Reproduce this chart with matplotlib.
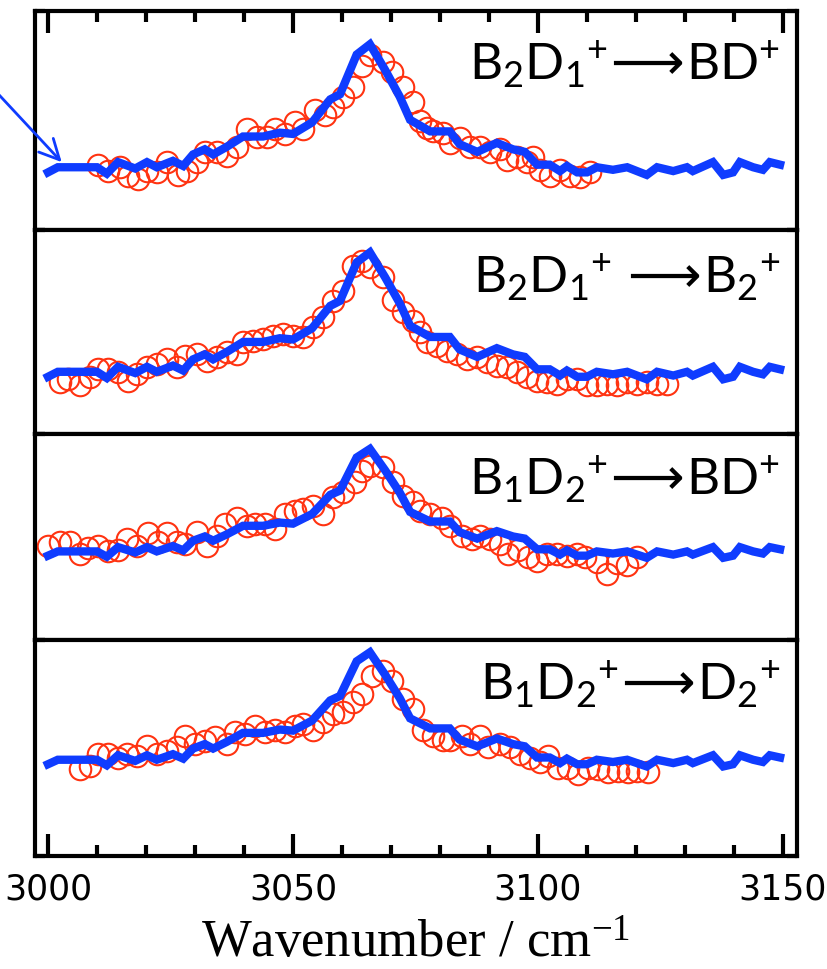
import matplotlib
matplotlib.use("Agg")

import matplotlib.pyplot as plt
from matplotlib import font_manager

# calculated spectrum (same trace in every panel), relative intensity
blue_wn = [3000, 3002, 3010, 3012, 3014.3, 3017.8, 3020.2, 3022.2, 3025.5, 3027.6,
           3029.6, 3032, 3033.7, 3036.5, 3039.8, 3043.9, 3047.3, 3050, 3053.9, 3057.6,
           3059.6, 3063, 3065.7, 3068.8, 3071.8, 3073.9, 3078, 3082, 3084, 3087.6,
           3091.6, 3094.9, 3097.3, 3099.8, 3102.4, 3104.5, 3105.9, 3108, 3110, 3112,
           3115.3, 3118.2, 3122.2, 3124.3, 3127.6, 3130.4, 3131.6, 3135.7, 3137.8, 3139.8,
           3141.2, 3143.9, 3145.9, 3147.3, 3149.4]
blue_int = [0, 0.04, 0.04, -0.01, 0.08, 0.03, 0.08, 0.04, 0.09, 0.05,
            0.14, 0.18, 0.14, 0.20, 0.28, 0.28, 0.31, 0.30, 0.39, 0.57,
            0.61, 0.92, 1.0, 0.80, 0.59, 0.41, 0.32, 0.32, 0.22, 0.16,
            0.23, 0.18, 0.16, 0.06, 0.06, 0.01, 0.05, 0, 0, 0.04,
            0.02, 0.04, -0.02, 0.04, 0.01, 0.04, 0.01, 0.08, -0.02, 0,
            0.08, 0.04, 0.02, 0.08, 0.06]

# measured spectra (open circles)
b2d1_bd_wn = [3010.2, 3012.2, 3014.7, 3016.3, 3018.4, 3020.2, 3022.2, 3024.3, 3026.5, 3028.4,
              3030.4, 3032.0, 3034.5, 3036.5, 3038.6, 3040.6, 3042.7, 3044.7, 3046.3, 3048.4,
              3050.4, 3052.0, 3054.5, 3056.5, 3058.2, 3060.2, 3062.2, 3064.1, 3065.7, 3068.4,
              3070.2, 3072.4, 3074.5, 3075.9, 3077.3, 3078.6, 3080.6, 3082.0, 3084.1, 3086.1,
              3088.2, 3090.2, 3092.2, 3093.7, 3095.7, 3097.8, 3099.0, 3100.4, 3102.4, 3104.5,
              3106.5, 3108.6, 3110.6]
b2d1_bd_int = [0.06, 0.01, 0.04, -0.03, -0.05, 0.01, 0.0, 0.08, -0.02, 0.01,
               0.08, 0.16, 0.16, 0.13, 0.20, 0.34, 0.28, 0.28, 0.34, 0.30,
               0.39, 0.34, 0.49, 0.45, 0.51, 0.59, 0.67, 0.83, 0.92, 0.86,
               0.78, 0.67, 0.55, 0.40, 0.35, 0.32, 0.31, 0.23, 0.27, 0.20,
               0.20, 0.16, 0.18, 0.10, 0.12, 0.08, 0.12, 0.02, -0.03, 0.02,
               -0.03, -0.04, 0.0]

b2d1_b2_wn = [3002.4, 3004.1, 3006.5, 3008.6, 3010.2, 3012.2, 3014.3, 3016.3, 3018.2, 3020.2,
              3022.2, 3024.3, 3026.3, 3028.0, 3030.4, 3032.4, 3034.5, 3036.5, 3038.6, 3039.8,
              3041.8, 3043.9, 3045.9, 3048.0, 3050.0, 3052.0, 3054.1, 3056.1, 3058.2, 3060.2,
              3062.2, 3064.1, 3065.7, 3068.4, 3070.4, 3072.4, 3074.5, 3075.9, 3077.3, 3079.4,
              3081.4, 3083.5, 3085.5, 3087.6, 3089.6, 3091.6, 3093.7, 3095.7, 3097.8, 3099.8,
              3101.8, 3103.9, 3105.9, 3108.0, 3110.0, 3112.0, 3114.1, 3116.1, 3118.2, 3120.2,
              3122.2, 3124.3, 3126.3]
b2d1_b2_int = [-0.04, -0.02, -0.07, 0.0, 0.06, 0.06, 0.04, -0.03, 0.02, 0.08,
               0.10, 0.14, 0.08, 0.17, 0.18, 0.13, 0.16, 0.20, 0.18, 0.28,
               0.29, 0.30, 0.33, 0.34, 0.33, 0.32, 0.40, 0.48, 0.61, 0.69,
               0.89, 0.93, 0.88, 0.80, 0.62, 0.52, 0.45, 0.36, 0.28, 0.25,
               0.21, 0.18, 0.14, 0.16, 0.12, 0.09, 0.08, 0.04, 0.0, -0.03,
               -0.04, -0.06, -0.02, -0.02, -0.07, -0.07, -0.06, -0.07, -0.04, -0.06,
               -0.04, -0.06, -0.06]

b1d2_bd_wn = [3000.0, 3002.4, 3004.5, 3006.5, 3008.2, 3010.2, 3012.2, 3014.3, 3016.1, 3018.2,
              3020.4, 3022.4, 3024.3, 3026.3, 3028.0, 3030.4, 3032.4, 3034.5, 3036.1, 3038.6,
              3040.6, 3042.2, 3044.3, 3046.3, 3048.4, 3050.4, 3052.0, 3054.1, 3056.1, 3058.2,
              3060.2, 3062.7, 3064.1, 3065.7, 3068.4, 3070.4, 3072.4, 3074.5, 3075.9, 3078.0,
              3080.4, 3082.0, 3084.5, 3086.5, 3088.2, 3090.2, 3092.2, 3093.9, 3095.9, 3098.0,
              3099.8, 3101.8, 3103.9, 3105.9, 3108.0, 3109.6, 3112.0, 3114.1, 3116.1, 3118.2,
              3120.2]
b1d2_bd_int = [0.09, 0.13, 0.13, 0.02, 0.07, 0.09, 0.04, 0.05, 0.16, 0.09,
               0.21, 0.13, 0.21, 0.13, 0.11, 0.22, 0.09, 0.18, 0.30, 0.35,
               0.28, 0.30, 0.30, 0.25, 0.39, 0.42, 0.44, 0.47, 0.39, 0.55,
               0.60, 0.69, 0.79, 0.84, 0.83, 0.69, 0.56, 0.50, 0.42, 0.39,
               0.35, 0.28, 0.18, 0.16, 0.18, 0.16, 0.11, 0.02, 0.05, -0.01,
               -0.05, 0.02, 0.02, 0.0, 0.02, -0.01, -0.06, -0.17, -0.07, -0.09,
               -0.01]

b1d2_d2_wn = [3006.5, 3008.6, 3010.2, 3012.2, 3014.3, 3016.1, 3018.2, 3020.2, 3022.2, 3024.3,
              3026.3, 3028.0, 3030.0, 3032.0, 3034.1, 3036.5, 3038.2, 3040.2, 3042.2, 3044.3,
              3046.3, 3048.4, 3050.4, 3052.0, 3054.1, 3056.1, 3058.2, 3060.2, 3062.2, 3064.1,
              3066.1, 3068.4, 3070.2, 3072.4, 3074.5, 3076.5, 3078.6, 3080.6, 3082.0, 3084.5,
              3086.1, 3088.2, 3089.8, 3092.2, 3094.3, 3096.3, 3098.4, 3100.4, 3102.0, 3104.1,
              3106.1, 3108.2, 3110.2, 3112.2, 3114.3, 3116.3, 3118.4, 3120.2, 3122.4]
b1d2_d2_int = [-0.04, -0.02, 0.09, 0.09, 0.06, 0.09, 0.07, 0.16, 0.09, 0.12,
               0.15, 0.25, 0.18, 0.21, 0.24, 0.18, 0.29, 0.27, 0.34, 0.29,
               0.31, 0.29, 0.34, 0.36, 0.31, 0.38, 0.45, 0.47, 0.56, 0.63,
               0.79, 0.83, 0.74, 0.58, 0.49, 0.31, 0.25, 0.22, 0.22, 0.25,
               0.18, 0.25, 0.15, 0.18, 0.15, 0.09, 0.06, 0.02, 0.07, -0.03,
               -0.03, -0.09, -0.03, -0.04, -0.07, -0.06, -0.07, -0.06, -0.07]

ARROW = r"$\!\mathrm{\longrightarrow}\!$"
panel_labels = [
    "B$_2$D$_1$$^{+}$" + ARROW + "BD$^{+}$",
    "B$_2$D$_1$$^{+}$ " + ARROW + "B$_2$$^{+}$",
    "B$_1$D$_2$$^{+}$" + ARROW + "BD$^{+}$",
    "B$_1$D$_2$$^{+}$" + ARROW + "D$_2$$^{+}$",
]
measured = [
    (b2d1_bd_wn, b2d1_bd_int),
    (b2d1_b2_wn, b2d1_b2_int),
    (b1d2_bd_wn, b1d2_bd_int),
    (b1d2_d2_wn, b1d2_d2_int),
]
panel_ylims = [(-0.45, 1.26), (-0.46, 1.18), (-0.79, 1.14), (-0.82, 1.11)]
label_y = [0.69, 0.70, 0.71, 0.73]

BLUE = "#0f3cff"
RED = "#ff3311"

installed = {f.name for f in font_manager.fontManager.ttflist}
tick_family = "Liberation Sans Narrow" if "Liberation Sans Narrow" in installed else "DejaVu Sans"
label_family = "Lato" if "Lato" in installed else "DejaVu Sans"

plt.rcParams["mathtext.default"] = "regular"
plt.rcParams["mathtext.fontset"] = "dejavusans"

fig, axes = plt.subplots(
    4, 1, figsize=(8.28, 9.70), dpi=100, sharex=True,
    gridspec_kw={"height_ratios": [219, 204, 206, 216], "hspace": 0},
)
fig.subplots_adjust(left=35 / 828, right=797 / 828, top=1 - 12 / 970, bottom=1 - 857 / 970)

for i, ax in enumerate(axes):
    wn, inten = measured[i]
    ax.plot(wn, inten, "o", ms=15.5, mfc="none", mec=RED, mew=1.5, zorder=2)
    ax.plot(blue_wn, blue_int, color=BLUE, lw=6, solid_joinstyle="miter", zorder=3)
    ax.set_ylim(*panel_ylims[i])
    ax.set_xlim(2997.35, 3152.86)
    ax.text(0.978, label_y[i], panel_labels[i], transform=ax.transAxes,
            ha="right", va="baseline", fontsize=37, family=label_family)
    for s in ax.spines.values():
        s.set_linewidth(3)
    ax.set_yticks(panel_ylims[i])
    ax.tick_params(axis="y", which="both", direction="in", length=7, width=3,
                   left=True, right=True, labelleft=False)
    ax.tick_params(axis="x", which="both", bottom=False, top=False, labelbottom=False)

axes[0].tick_params(axis="x", which="both", top=True, direction="in")
axes[-1].tick_params(axis="x", which="both", bottom=True, labelbottom=True, direction="in")
for ax in (axes[0], axes[-1]):
    ax.set_xticks([3000, 3050, 3100, 3150])
    ax.set_xticks(range(3000, 3151, 10), minor=True)
    ax.tick_params(axis="x", which="major", length=16, width=3)
    ax.tick_params(axis="x", which="minor", length=8, width=3)

axes[-1].tick_params(axis="x", which="major", pad=11, labelsize=25)
for lbl in axes[-1].get_xticklabels():
    lbl.set_family(tick_family)

axes[-1].set_xlabel(r"Wavenumber / cm$^{-1}$", family="Liberation Serif",
                    fontsize=38, labelpad=10)

# arrow pointing at the start of the calculated trace
axes[0].annotate("", xy=(3002.8, 0.08), xytext=(-0.052, 0.635),
                 textcoords="axes fraction", annotation_clip=False,
                 arrowprops=dict(arrowstyle="->", color=BLUE, lw=2,
                                 mutation_scale=36, shrinkA=0, shrinkB=0))

fig.savefig("out.png", dpi=100)
